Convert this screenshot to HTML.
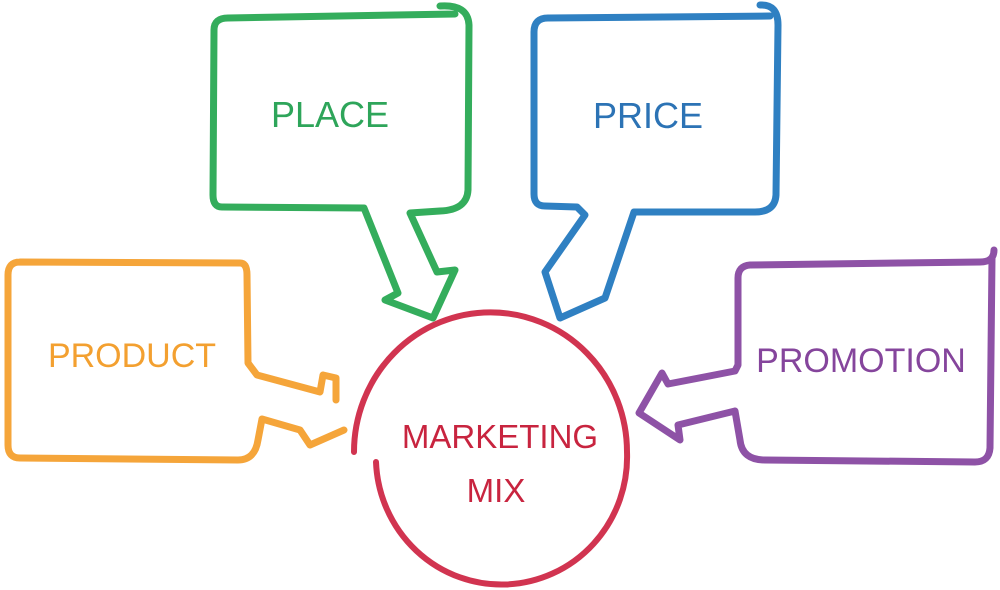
<!DOCTYPE html>
<html><head><meta charset="utf-8"><style>
html,body{margin:0;padding:0;background:#fff;width:1000px;height:590px;overflow:hidden}
svg{display:block}
text{font-family:"Liberation Sans",sans-serif;}
</style></head><body>
<svg width="1000" height="590" viewBox="0 0 1000 590" xmlns="http://www.w3.org/2000/svg">
<g fill="none" stroke-width="7" stroke-linejoin="round" stroke-linecap="round">
<path stroke="#34ad5c" d="M440,6 Q468,4 469,25 L468,190 Q467,210 440,211 L410,213 L437,272 L455,270 L433,318 L385,300 L398,293 L364,208 L222,207 Q213,207 213,195 L214,30 Q214,18 228,18 L455,14"/>
<path stroke="#2f80c2" d="M760,5 Q778,4 778,25 L776,195 Q775,212 755,212 L634,212 L605,298 L560,318 L545,272 L585,215 L577,207 L545,206 Q534,206 534,194 L534,32 Q534,18 548,18 L770,16"/>
<path stroke="#f5a53a" d="M20,262 L240,263 Q247,263 247,275 L248,363 L257,375 L320,392 L323,375 L336,378 L336,400 M344,430 L310,445 L300,430 L262,419 L258,440 Q255,460 238,460 L20,458 Q8,458 8,445 L8,275 Q8,262 20,262"/>
<path stroke="#8e52a6" d="M750,265 L980,262 Q994,262 994,250 M992,258 L990,448 Q989,462 975,462 L765,460 Q742,460 740,440 L735,411 L678,425 L680,440 L639,413 L662,373 L668,384 L735,371 L738,365 L738,278 Q738,266 750,265"/>
<path stroke="#d13450" stroke-width="6" d="M376,462 A124,126 0 0 0 627,452 A130,133 0 0 0 354,452"/>
</g>
<text x="330" y="127" font-size="36" fill="#2ea55a" text-anchor="middle">PLACE</text>
<text x="648" y="128" font-size="36" fill="#2c73b5" text-anchor="middle">PRICE</text>
<text x="132" y="367" font-size="34" fill="#f3a030" text-anchor="middle">PRODUCT</text>
<text x="861" y="372" font-size="34" fill="#85459c" text-anchor="middle">PROMOTION</text>
<text x="500" y="448" font-size="33" fill="#c8243f" text-anchor="middle">MARKETING</text>
<text x="496" y="502" font-size="33" fill="#c8243f" text-anchor="middle">MIX</text>
</svg>
</body></html>
